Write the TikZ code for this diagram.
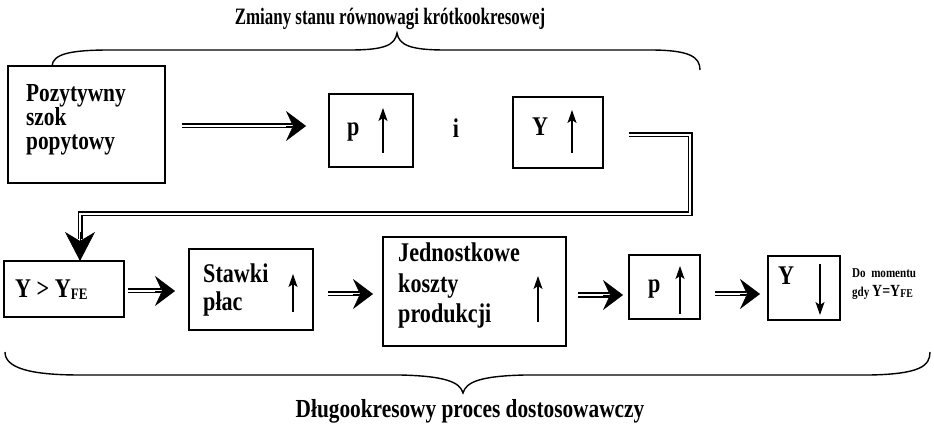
\documentclass[tikz,border=0pt]{standalone}
\usepackage{fontspec}
\setmainfont{Liberation Serif}[FakeStretch=0.82]
\newfontfamily\condfont{Liberation Serif}[FakeStretch=0.72]
\usetikzlibrary{arrows.meta,calc}
\begin{document}
\begin{tikzpicture}[x=1pt,y=-1pt,
  box/.style={draw, line width=1.1pt, inner sep=0pt, outer sep=0pt, anchor=north west},
  lbl/.style={font=\bfseries\fontsize{27}{27}\selectfont, inner sep=0pt, anchor=base west},
  lbltight/.style={lbl, font=\bfseries\fontsize{26}{26}\selectfont, text depth=3pt, text height=15pt},
  ttl/.style={font=\bfseries\fontsize{24}{24}\selectfont, inner sep=0pt, anchor=base},
  small/.style={font=\bfseries\fontsize{13.5}{13.5}\selectfont, inner sep=0pt, anchor=base west},
  dbl/.style={double, double distance=2pt, line width=1.5pt},
  bighead/.style={-{Stealth[length=20pt,width=30pt,inset=7pt]}, line width=0.6pt},
  vhead/.style={-{Stealth[length=29pt,width=30pt,inset=9pt]}, line width=0.6pt},
  thin/.style={-{Stealth[length=13pt,width=9pt,inset=3pt]}, line width=1.2pt},
  brace/.style={line width=1.4pt}]
\useasboundingbox (0,0) rectangle (934,430);

% titles
\node[ttl,font=\condfont\bfseries\fontsize{23.5}{23.5}\selectfont] (t1) at (390,25) {Zmiany stanu równowagi krótkookresowej};
\node[ttl,font=\bfseries\fontsize{26}{26}\selectfont] (t2) at (470,417) {Długookresowy proces dostosowawczy};

% braces
\draw[brace] (52,66) .. controls (53,54) and (70,50) .. (110,50) -- (350,50)
  .. controls (385,50) and (395,45) .. (397,33)
  .. controls (399,45) and (410,50) .. (445,50) -- (650,50)
  .. controls (690,50) and (700,57) .. (700,70);
\draw[brace] (5,352) .. controls (5,368) and (30,375) .. (80,375) -- (400,375)
  .. controls (445,376) and (460,382) .. (463,393)
  .. controls (466,382) and (480,376) .. (525,375) -- (870,375)
  .. controls (920,374) and (930,366) .. (930,352);

% top row boxes
\node[box, minimum width=157pt, minimum height=117pt] (b1) at (8,66) {};
\node[lbltight] (b1a) at (26,102) {Pozytywny};
\node[lbltight] (b1b) at (26,126) {szok};
\node[lbltight] (b1c) at (26,150) {popytowy};

\node[box, minimum width=84pt, minimum height=73pt] (bp) at (329,94) {};
\node[lbl] (bpt) at (347,136) {p};
\coordinate (bpa1) at (383,153); \coordinate (bpa2) at (383,108);
\draw[thin] (bpa1) -- (bpa2);

\node[lbl,anchor=base] (iand) at (456,138) {i};

\node[box, minimum width=90pt, minimum height=71pt] (bY) at (513,97) {};
\node[lbl] (bYt) at (532,136) {Y};
\coordinate (bYa1) at (572,153); \coordinate (bYa2) at (572,110);
\draw[thin] (bYa1) -- (bYa2);

% top arrow
\coordinate (ta1) at (182,126); \coordinate (ta2) at (306,126);
\draw[dbl] (ta1) -- ($(ta2)+(-14,0)$);
\draw[bighead] ($(ta2)+(-20,0)$) -- (ta2);

% connector
\coordinate (c1) at (629,135);
\coordinate (c2) at (690,135);
\coordinate (c3) at (690,214);
\coordinate (c4) at (80,214);
\draw[dbl] (c1) -- (c2) -- (c3) -- (c4) -- ($(c4)+(0,25)$);

% bottom row boxes
\node[box, minimum width=120pt, minimum height=56pt] (bF) at (4,261) {};
\draw[vhead] ($(c4)+(0,18)$) -- (bF.north -| c4);
\node[lbl] (bFt) at (15,298) {Y > Y\raisebox{-2pt}{\fontsize{16}{16}\selectfont FE}};

\node[box, minimum width=124pt, minimum height=81pt] (bS) at (189,249) {};
\node[lbl] (bSa) at (203,283) {Stawki};
\node[lbl] (bSb) at (203,310) {płac};
\coordinate (bSa1) at (293,312); \coordinate (bSa2) at (293,274);
\draw[thin] (bSa1) -- (bSa2);

\node[box, minimum width=183pt, minimum height=109pt] (bJ) at (383,237) {};
\node[lbl] (bJa) at (398,262) {Jednostkowe};
\node[lbl] (bJb) at (398,292) {koszty};
\node[lbl] (bJc) at (398,323) {produkcji};
\coordinate (bJa1) at (538,322); \coordinate (bJa2) at (538,276);
\draw[thin] (bJa1) -- (bJa2);

\node[box, minimum width=71pt, minimum height=64pt] (bp2) at (629,255) {};
\node[lbl] (bp2t) at (648,293) {p};
\coordinate (bp2a1) at (680,314); \coordinate (bp2a2) at (680,266);
\draw[thin] (bp2a1) -- (bp2a2);

\node[box, minimum width=72pt, minimum height=64pt] (bY2) at (768,256) {};
\node[lbl] (bY2t) at (778,285) {Y};
\coordinate (bY2a1) at (820,264); \coordinate (bY2a2) at (820,315);
\draw[thin] (bY2a1) -- (bY2a2);

\node[small] (dm1) at (852,277) {Do\ \ momentu};
\node[small] (dm2) at (852,296) {gdy {\fontsize{17}{17}\selectfont Y=Y\raisebox{-1.5pt}{\fontsize{12}{12}\selectfont FE}}};

% bottom arrows
\coordinate (a1s) at (128,291); \coordinate (a1e) at (175,291);
\draw[dbl] (a1s) -- ($(a1e)+(-14,0)$); \draw[bighead] ($(a1e)+(-20,0)$) -- (a1e);
\coordinate (a2s) at (328,294); \coordinate (a2e) at (373,294);
\draw[dbl] (a2s) -- ($(a2e)+(-14,0)$); \draw[bighead] ($(a2e)+(-20,0)$) -- (a2e);
\coordinate (a3s) at (578,295); \coordinate (a3e) at (623,295);
\draw[dbl] (a3s) -- ($(a3e)+(-14,0)$); \draw[bighead] ($(a3e)+(-20,0)$) -- (a3e);
\coordinate (a4s) at (715,294); \coordinate (a4e) at (760,294);
\draw[dbl] (a4s) -- ($(a4e)+(-14,0)$); \draw[bighead] ($(a4e)+(-20,0)$) -- (a4e);
\end{tikzpicture}
\end{document}
